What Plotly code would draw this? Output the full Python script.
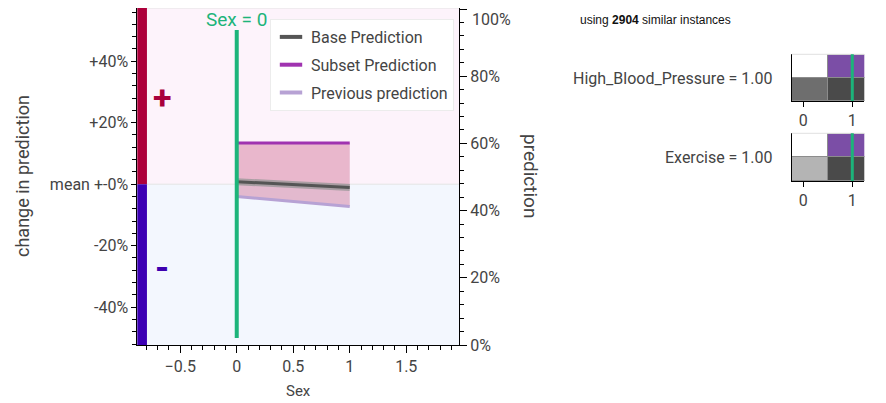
import plotly.graph_objects as go

W, H = 886, 395
PAGE_MARGIN = 8  # the page body puts the figure 8px in from the corner

# main panel: partial dependence on Sex
sex_values = [0, 1]
base_prediction = [0.486, 0.469]
subset_prediction = [0.601, 0.601]
previous_prediction = [0.442, 0.412]
selected_sex = 0
n_similar = 2904

change_ticks = [-0.4, -0.2, 0, 0.2, 0.4]
change_labels = ["-40%", "-20%", "mean +-0%", "+20%", "+40%"]
change_range = [-0.523, 0.573]
pred_ticks = [0, 0.2, 0.4, 0.6, 0.8, 1.0]
pred_labels = ["0%", "20%", "40%", "60%", "80%", ""]  # 100% is placed by hand below
sex_ticks = [-0.5, 0, 0.5, 1, 1.5]

# small histograms on the right
hist_bins = [0, 1]
hist_features = ["High_Blood_Pressure", "Exercise"]
hist_selected = [1.0, 1.0]
hist_total = [[1, 1], [1, 1]]
hist_subset = [[0, 1], [0, 1]]
hist_colors = [["#6e6e6e", "#4a4a4a"], ["#b4b4b4", "#4a4a4a"]]

GREEN = "#1cb47a"
GREY = "#444444"
BASE_COLOR = "#555555"
SUBSET_COLOR = "#a033b0"
PREV_COLOR = "#b7a2d4"


def px_x(p):
    return (p - PAGE_MARGIN) / W


def px_y(p):
    return 1 - (p - PAGE_MARGIN) / H


fig = go.Figure()

# pink band between previous and subset prediction
fig.add_trace(go.Scatter(x=sex_values, y=previous_prediction, mode="lines",
                         line=dict(width=0), showlegend=False, hoverinfo="skip",
                         xaxis="x", yaxis="y2"))
fig.add_trace(go.Scatter(x=sex_values, y=subset_prediction, mode="lines",
                         line=dict(width=0), fill="tonexty",
                         fillcolor="rgba(203,93,136,0.4)", showlegend=False,
                         hoverinfo="skip", xaxis="x", yaxis="y2"))
# light halo under base line
fig.add_trace(go.Scatter(x=sex_values, y=base_prediction, mode="lines",
                         line=dict(width=7, color="rgba(150,150,150,0.75)"),
                         showlegend=False, hoverinfo="skip", xaxis="x", yaxis="y2"))

series = [("Base Prediction", base_prediction, BASE_COLOR),
          ("Subset Prediction", subset_prediction, SUBSET_COLOR),
          ("Previous prediction", previous_prediction, PREV_COLOR)]
for name, vals, color in series:
    fig.add_trace(go.Scatter(x=sex_values, y=vals, mode="lines", name=name,
                             line=dict(width=3, color=color), showlegend=False,
                             xaxis="x", yaxis="y2"))
# legend entries with short line symbols
for k, (name, vals, color) in enumerate(series):
    fig.add_trace(go.Scatter(x=[None], y=[None], mode="markers", name=name,
                             legendgroup=str(k),
                             marker=dict(symbol="line-ew", size=16,
                                         line=dict(width=4, color=color)),
                             xaxis="x", yaxis="y2"))

# histograms
for i in range(len(hist_features)):
    xa = "x%d" % (i + 2)
    ya = "y%d" % (i + 3)
    fig.add_trace(go.Bar(x=hist_bins, y=hist_total[i], width=1,
                         marker=dict(color=hist_colors[i],
                                     line=dict(color="#8c8c8c", width=1)),
                         showlegend=False, xaxis=xa, yaxis=ya))
    fig.add_trace(go.Bar(x=hist_bins, y=hist_subset[i], width=1,
                         marker=dict(color="#7b4ea6",
                                     line=dict(color="#8c8c8c", width=1)),
                         showlegend=False, xaxis=xa, yaxis=ya))

shapes = [
    dict(type="rect", xref="x domain", yref="y", x0=0, x1=1, y0=0, y1=change_range[1],
         fillcolor="#fdf3fb", line=dict(width=0), layer="below"),
    dict(type="rect", xref="x domain", yref="y", x0=0, x1=1, y0=change_range[0], y1=0,
         fillcolor="#f3f7fe", line=dict(width=0), layer="below"),
    dict(type="line", xref="x domain", yref="y", x0=0, x1=1, y0=0, y1=0,
         line=dict(color="#e4e4e4", width=1), layer="below"),
    dict(type="line", xref="x domain", yref="y domain", x0=0, x1=1, y0=1, y1=1,
         line=dict(color="#e4e4e4", width=1), layer="below"),
    dict(type="rect", xref="x domain", yref="y", x0=0, x1=0.03, y0=0, y1=change_range[1],
         fillcolor="#ad003b", line=dict(width=0)),
    dict(type="rect", xref="x domain", yref="y", x0=0, x1=0.03, y0=change_range[0], y1=0,
         fillcolor="#3c00b4", line=dict(width=0)),
    dict(type="line", xref="x", yref="y domain", x0=selected_sex, x1=selected_sex,
         y0=0.021, y1=0.935, line=dict(color=GREEN, width=4)),
]
for i in range(len(hist_features)):
    xa = "x%d" % (i + 2)
    ya = "y%d" % (i + 3)
    shapes.append(dict(type="line", xref=xa + " domain", yref=ya + " domain",
                       x0=0, x1=1, y0=1, y1=1, line=dict(color="#e0e0e0", width=1)))
    shapes.append(dict(type="line", xref=xa, yref=ya + " domain",
                       x0=hist_selected[i], x1=hist_selected[i], y0=0, y1=1,
                       line=dict(color=GREEN, width=3)))


def note(text, x, y, size, color=GREY, angle=0, xanchor="center", yanchor="middle",
         family=None, xref="paper"):
    f = dict(size=size, color=color)
    if family:
        f["family"] = family
    return dict(text=text, x=x, y=y, xref=xref, yref="paper", showarrow=False,
                xanchor=xanchor, yanchor=yanchor, textangle=angle, font=f)


annotations = [
    note("Sex = %d" % selected_sex, selected_sex, px_y(19), 19, GREEN, xref="x"),
    note("<b>+</b>", px_x(162), px_y(97), 34, "#a8003c"),
    note("<b>-</b>", px_x(162), px_y(268), 36, "#3d00b0"),
    note("change in prediction", px_x(22), px_y(176), 18, angle=-90),
    note("prediction", px_x(531), px_y(176), 19, angle=90),
    note("100%", px_x(470), 1, 16, xanchor="left", yanchor="top"),
    note("using <b>%d</b> similar instances" % n_similar, px_x(578), px_y(20), 12,
         "#111111", xanchor="left", family="Liberation Sans"),
]
label_y = [78, 157]
for i, feat in enumerate(hist_features):
    annotations.append(note("%s = %.2f" % (feat, hist_selected[i]), px_x(775),
                            px_y(label_y[i]), 16, xanchor="right"))

tick_style = dict(ticks="outside", tickcolor="black", showline=True, linecolor="black",
                  showgrid=False, zeroline=False, automargin=False,
                  tickfont=dict(size=16, color=GREY))

fig.update_layout(
    width=W, height=H,
    margin=dict(l=0, r=0, t=0, b=0),
    paper_bgcolor="white", plot_bgcolor="white",
    font=dict(family="Roboto", color=GREY),
    barmode="stack", bargap=0,
    shapes=shapes, annotations=annotations,
    legend=dict(x=px_x(270), y=px_y(19), xanchor="left", yanchor="top",
                bgcolor="white", bordercolor="#ececec", borderwidth=1,
                font=dict(size=16, color=GREY), tracegroupgap=4, itemwidth=30),
    xaxis=dict(domain=[px_x(137.3), px_x(459)], range=[-0.88, 1.967], anchor="y",
               tickvals=sex_ticks, ticklen=7,
               minor=dict(dtick=0.1, tick0=0, ticklen=4, ticks="outside", tickcolor="black"),
               title=dict(text="Sex", font=dict(size=15, color=GREY), standoff=10),
               **tick_style),
    yaxis=dict(domain=[px_y(345), px_y(8)], range=change_range, anchor="x",
               tickvals=change_ticks, ticktext=change_labels, ticklen=5,
               minor=dict(dtick=0.04, tick0=0, ticklen=4, ticks="outside", tickcolor="black"),
               **tick_style),
    yaxis2=dict(overlaying="y", side="right", anchor="x", range=[0, 1.003],
                tickvals=pred_ticks, ticktext=pred_labels, ticklen=7,
                minor=dict(dtick=0.04, tick0=0, ticklen=4, ticks="outside", tickcolor="black"),
                **tick_style),
    xaxis2=dict(domain=[px_x(791.7), px_x(864.3)], range=[-0.236, 1.245], anchor="y3",
                tickvals=hist_bins, ticklen=5, **tick_style),
    yaxis3=dict(domain=[px_y(101), px_y(54.3)], range=[0, 2.03], anchor="x2",
                showticklabels=False, showline=True, linecolor="black",
                showgrid=False, zeroline=False, automargin=False),
    xaxis3=dict(domain=[px_x(791.7), px_x(864.3)], range=[-0.236, 1.245], anchor="y4",
                tickvals=hist_bins, ticklen=5, **tick_style),
    yaxis4=dict(domain=[px_y(181), px_y(133.3)], range=[0, 2.03], anchor="x3",
                showticklabels=False, showline=True, linecolor="black",
                showgrid=False, zeroline=False, automargin=False),
)

fig.write_html("out.html")
